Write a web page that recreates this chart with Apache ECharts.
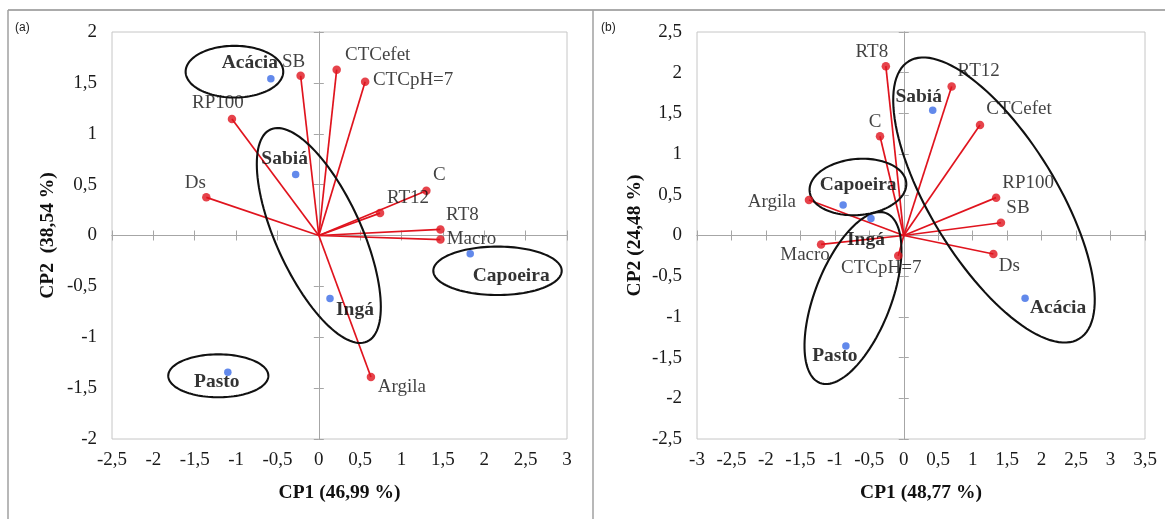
<!DOCTYPE html>
<html><head><meta charset="utf-8">
<script src="https://cdn.jsdelivr.net/npm/echarts@6/dist/echarts.min.js"></script>
<style>html,body{margin:0;padding:0;background:#fff}#c{width:1165px;height:519px}</style>
</head><body><div id="c"></div>
<script>
// ---------- Panel (a) ----------
const groupsA = ['Acácia', 'Sabiá', 'Ingá', 'Capoeira', 'Pasto'];
const groupAX = [-0.58, -0.28, 0.135, 1.83, -1.10];
const groupAY = [1.54, 0.60, -0.62, -0.18, -1.345];
const varsA = ['SB', 'CTCefet', 'CTCpH=7', 'C', 'RT12', 'RT8', 'Macro', 'Argila', 'RP100', 'Ds'];
const varAX = [-0.22, 0.216, 0.56, 1.30, 0.74, 1.47, 1.47, 0.63, -1.05, -1.36];
const varAY = [1.57, 1.63, 1.51, 0.44, 0.22, 0.06, -0.04, -1.39, 1.145, 0.375];
// ellipses: [centre x, centre y, semi-axis u (x, y), semi-axis v (x, y)] in data units
const ellipsesA = [
  [-1.02, 1.61, 0.59, 0, 0, 0.254],
  [2.16, -0.347, 0.776, 0, 0, 0.238],
  [-1.215, -1.379, 0.605, 0, 0, 0.211],
  [0, 0, -0.584, 1.042, 0.470, 0.174]
];
const xTitleA = 'CP1 (46,99 %)';
const yTitleA = 'CP2  (38,54 %)';
const xRangeA = [-2.5, 3];
const yRangeA = [-2, 2];

// ---------- Panel (b) ----------
const groupsB = ['Sabiá', 'Capoeira', 'Ingá', 'Pasto', 'Acácia'];
const groupBX = [0.42, -0.88, -0.476, -0.84, 1.76];
const groupBY = [1.54, 0.375, 0.21, -1.357, -0.77];
const varsB = ['RT8', 'C', 'Argila', 'Macro', 'CTCpH=7', 'RT12', 'CTCefet', 'RP100', 'SB', 'Ds'];
const varBX = [-0.26, -0.345, -1.376, -1.20, -0.08, 0.695, 1.106, 1.34, 1.41, 1.30];
const varBY = [2.08, 1.22, 0.436, -0.11, -0.25, 1.83, 1.357, 0.465, 0.157, -0.227];
const ellipsesB = [
  [-0.665, 0.596, 0.701, 0.052, 0.035, -0.343],
  [-0.737, -0.768, 0.480, 1.043, 0.514, -0.170],
  [1.309, 0.436, -1.238, 1.704, 0.778, 0.405]
];
const xTitleB = 'CP1 (48,77 %)';
const yTitleB = 'CP2 (24,48 %)';
const xRangeB = [-3, 3.5];
const yRangeB = [-2.5, 2.5];

const tickStep = 0.5;

// ---------- label offsets (style, px from point centre) ----------
const varOffA = {SB:[-7,-14], CTCefet:[41,-15], 'CTCpH=7':[48,-2], C:[13,-16], RT12:[28,-15], RT8:[22,-14], Macro:[31,-1], Argila:[31,10], RP100:[-14,-16], Ds:[-11,-14]};
const grpOffA = {'Acácia':[-21,-16], 'Sabiá':[-11,-15], 'Ingá':[25,11], 'Capoeira':[41,22], 'Pasto':[-11,10]};
const varOffB = {RT8:[-14,-14], C:[-5,-14], Argila:[-37,2], Macro:[-16,11], 'CTCpH=7':[-17,12], RT12:[27,-16], CTCefet:[39,-16], RP100:[32,-15], SB:[17,-15], Ds:[16,12]};
const grpOffB = {'Sabiá':[-14,-13], 'Capoeira':[15,-20], 'Ingá':[-5,22], 'Pasto':[-11,10], 'Acácia':[33,10]};

const SERIF = 'Liberation Serif, Times New Roman, serif';
const RED = '#e0141e';
const BLUE = '#3b6ce6';
const fmt = v => String(v).replace('.', ',');

const xAxes = [], yAxes = [], series = [], grids = [];

function panel(g, grid, xr, yr, xTitle, yTitle, yNameGap, groups, gx, gy, vars, vx, vy, ells, vOff, gOff) {
  grids.push(Object.assign({show: true, borderColor: '#c6c6c6', borderWidth: 1, backgroundColor: 'transparent'}, grid));
  const base = 3 * g;
  const zeroLine = {show: true, onZero: true, lineStyle: {color: '#a6a6a6', width: 1}};
  const zeroTick = {show: true, length: 5, lineStyle: {color: '#a6a6a6', width: 1}};
  xAxes.push({gridIndex: g, type: 'value', min: xr[0], max: xr[1], interval: tickStep, position: 'bottom',
    axisLine: {show: false, onZero: false}, axisTick: {show: false}, splitLine: {show: false},
    axisLabel: {formatter: fmt, fontFamily: SERIF, fontSize: 19, color: '#1a1a1a', margin: 12},
    name: xTitle, nameLocation: 'middle', nameGap: 44,
    nameTextStyle: {fontFamily: SERIF, fontSize: 19.5, fontWeight: 'bold', color: '#111'}});
  xAxes.push({gridIndex: g, type: 'value', min: xr[0], max: xr[1], interval: tickStep, position: 'bottom',
    axisLine: zeroLine, axisTick: zeroTick, axisLabel: {show: false}, splitLine: {show: false}});
  xAxes.push({gridIndex: g, type: 'value', min: xr[0], max: xr[1], interval: tickStep, position: 'top',
    axisLine: zeroLine, axisTick: zeroTick, axisLabel: {show: false}, splitLine: {show: false}});
  yAxes.push({gridIndex: g, type: 'value', min: yr[0], max: yr[1], interval: tickStep, position: 'left',
    axisLine: {show: false, onZero: false}, axisTick: {show: false}, splitLine: {show: false},
    axisLabel: {formatter: fmt, fontFamily: SERIF, fontSize: 19, color: '#1a1a1a', margin: 15},
    name: yTitle, nameLocation: 'middle', nameGap: yNameGap, nameRotate: 90,
    nameTextStyle: {fontFamily: SERIF, fontSize: 19.5, fontWeight: 'bold', color: '#111'}});
  yAxes.push({gridIndex: g, type: 'value', min: yr[0], max: yr[1], interval: tickStep, position: 'left',
    axisLine: zeroLine, axisTick: zeroTick, axisLabel: {show: false}, splitLine: {show: false}});
  yAxes.push({gridIndex: g, type: 'value', min: yr[0], max: yr[1], interval: tickStep, position: 'right',
    axisLine: zeroLine, axisTick: zeroTick, axisLabel: {show: false}, splitLine: {show: false}});

  series.push({type: 'lines', coordinateSystem: 'cartesian2d', xAxisIndex: base, yAxisIndex: base, z: 3,
    silent: true, lineStyle: {color: RED, width: 1.7, opacity: 1},
    data: vars.map((n, i) => ({coords: [[0, 0], [vx[i], vy[i]]]}))});
  series.push({type: 'custom', xAxisIndex: base, yAxisIndex: base, z: 4, silent: true, clip: false,
    data: ells, encode: {x: 0, y: 1},
    renderItem: (params, api) => {
      const cx = api.value(0), cy = api.value(1), ux = api.value(2), uy = api.value(3), vx2 = api.value(4), vy2 = api.value(5);
      const pts = [];
      for (let i = 0; i <= 120; i++) {
        const t = i / 120 * 2 * Math.PI;
        pts.push(api.coord([cx + ux * Math.cos(t) + vx2 * Math.sin(t), cy + uy * Math.cos(t) + vy2 * Math.sin(t)]));
      }
      return {type: 'polygon', shape: {points: pts}, style: {fill: 'none', stroke: '#111', lineWidth: 2.1}};
    }});
  const lbl = {show: true, position: 'inside', formatter: '{b}', fontFamily: SERIF,
    textBorderWidth: 0, textBorderColor: 'transparent', textShadowBlur: 0};
  series.push({type: 'scatter', xAxisIndex: base, yAxisIndex: base, z: 5, symbolSize: 8.5, silent: true,
    itemStyle: {color: RED},
    label: Object.assign({}, lbl, {fontSize: 19, color: '#111'}),
    data: vars.map((n, i) => ({name: n, value: [vx[i], vy[i]], label: {offset: vOff[n]}}))});
  series.push({type: 'scatter', xAxisIndex: base, yAxisIndex: base, z: 6, symbolSize: 7.5, silent: true,
    itemStyle: {color: BLUE},
    label: Object.assign({}, lbl, {fontSize: 19.5, fontWeight: 'bold', color: '#000'}),
    data: groups.map((n, i) => ({name: n, value: [gx[i], gy[i]], label: {offset: gOff[n]}}))});
}

panel(0, {left: 112, top: 32, width: 455, height: 407}, xRangeA, yRangeA, xTitleA, yTitleA, 54,
  groupsA, groupAX, groupAY, varsA, varAX, varAY, ellipsesA, varOffA, grpOffA);
panel(1, {left: 697, top: 32, width: 448, height: 407}, xRangeB, yRangeB, xTitleB, yTitleB, 52,
  groupsB, groupBX, groupBY, varsB, varBX, varBY, ellipsesB, varOffB, grpOffB);

const chart = echarts.init(document.getElementById('c'), null, {renderer: 'canvas'});
chart.setOption({
  animation: false,
  backgroundColor: '#fff',
  grid: grids,
  xAxis: xAxes,
  yAxis: yAxes,
  series: series,
  graphic: [
    {type: 'line', shape: {x1: 8, y1: 10, x2: 1165, y2: 10}, style: {stroke: '#8f8f8f', lineWidth: 1.5}},
    {type: 'line', shape: {x1: 8, y1: 10, x2: 8, y2: 519}, style: {stroke: '#a0a0a0', lineWidth: 1.5}},
    {type: 'line', shape: {x1: 593, y1: 10, x2: 593, y2: 519}, style: {stroke: '#a0a0a0', lineWidth: 1.5}},
    {type: 'text', left: 15, top: 22, style: {text: '(a)', fontFamily: 'Liberation Sans, Arial, sans-serif', fontSize: 12, fill: '#222'}},
    {type: 'text', left: 601, top: 22, style: {text: '(b)', fontFamily: 'Liberation Sans, Arial, sans-serif', fontSize: 12, fill: '#222'}}
  ]
});
</script>
</body></html>
